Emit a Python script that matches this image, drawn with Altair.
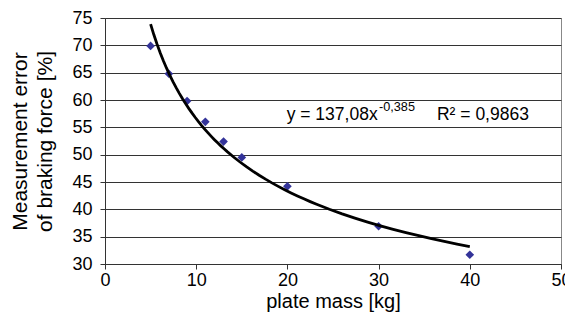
import altair as alt
import pandas as pd

# data
plate_mass = [5, 7, 9, 11, 13, 15, 20, 30, 40]
meas_error = [69.9, 64.8, 59.8, 56.0, 52.4, 49.5, 44.2, 36.9, 31.7]

x_ticks = [0, 10, 20, 30, 40, 50]
y_ticks = [30, 35, 40, 45, 50, 55, 60, 65, 70, 75]

eq_main = "y = 137,08x"
eq_exp = "-0,385"
eq_r2 = "R² = 0,9863"

df = pd.DataFrame({"mass": plate_mass, "error": meas_error})
one_row = pd.DataFrame({"k": [0]})

FONT = "Liberation Sans"

x_axis = alt.Axis(values=x_ticks, tickCount=6, title="plate mass [kg]", grid=False,
                  tickSize=5, labelPadding=2, titlePadding=2, labelOverlap=False,
                  labelFlush=False,
                  labelFont=FONT, titleFont=FONT, labelFontSize=18, titleFontSize=20,
                  titleFontWeight="normal", labelColor="black", titleColor="black",
                  domainColor="#333333", tickColor="#333333")
y_axis = alt.Axis(values=y_ticks, tickCount=10,
                  title=["Measurement error", "of braking force [%]"],
                  grid=True, tickSize=5, labelPadding=8, titlePadding=16,
                  titleLineHeight=25, labelOverlap=False, labelFlush=False,
                  labelFont=FONT, titleFont=FONT, labelFontSize=18, titleFontSize=21,
                  titleFontWeight="normal", labelColor="black", titleColor="black",
                  domainColor="#333333", tickColor="#333333",
                  gridColor="#333333", gridOpacity=1, gridWidth=1)

x_scale = alt.Scale(domain=[0, 50], nice=False)
y_scale = alt.Scale(domain=[30, 75], nice=False, zero=False)

x_enc = alt.X("mass:Q", scale=x_scale, axis=x_axis)
y_enc = alt.Y("error:Q", scale=y_scale, axis=y_axis)

base = alt.Chart(df)

points = base.mark_point(shape="diamond", filled=True, size=75, color="#333399", opacity=1).encode(
    x=x_enc, y=y_enc)

trend = base.transform_regression("mass", "error", method="pow", extent=[5, 40]).mark_line(
    color="black", strokeWidth=2.8).encode(x=x_enc, y=y_enc)


def label(text, x, y, size):
    return alt.Chart(one_row).mark_text(align="left", baseline="alphabetic", fontSize=size, font=FONT,
                                        fontWeight="normal", color="black").encode(
        x=alt.X(datum=x, type="quantitative", scale=x_scale, axis=x_axis),
        y=alt.Y(datum=y, type="quantitative", scale=y_scale, axis=y_axis),
        text=alt.value(text))


txt_main = label(eq_main, 19.92, 56.43, 17.5)
txt_exp = label(eq_exp, 30.04, 57.98, 12.7)
txt_r2 = label(eq_r2, 36.4, 56.43, 17.5)

chart = alt.layer(points, trend, txt_main, txt_exp, txt_r2).properties(
    width=456, height=246,
    autosize=alt.AutoSizeParams(type="none"),
    padding={"left": 97, "top": 10, "right": 4, "bottom": 54},
).configure_view(stroke="#888888", strokeWidth=1)

chart.save("out.html", embed_options={"renderer": "svg", "actions": False})
